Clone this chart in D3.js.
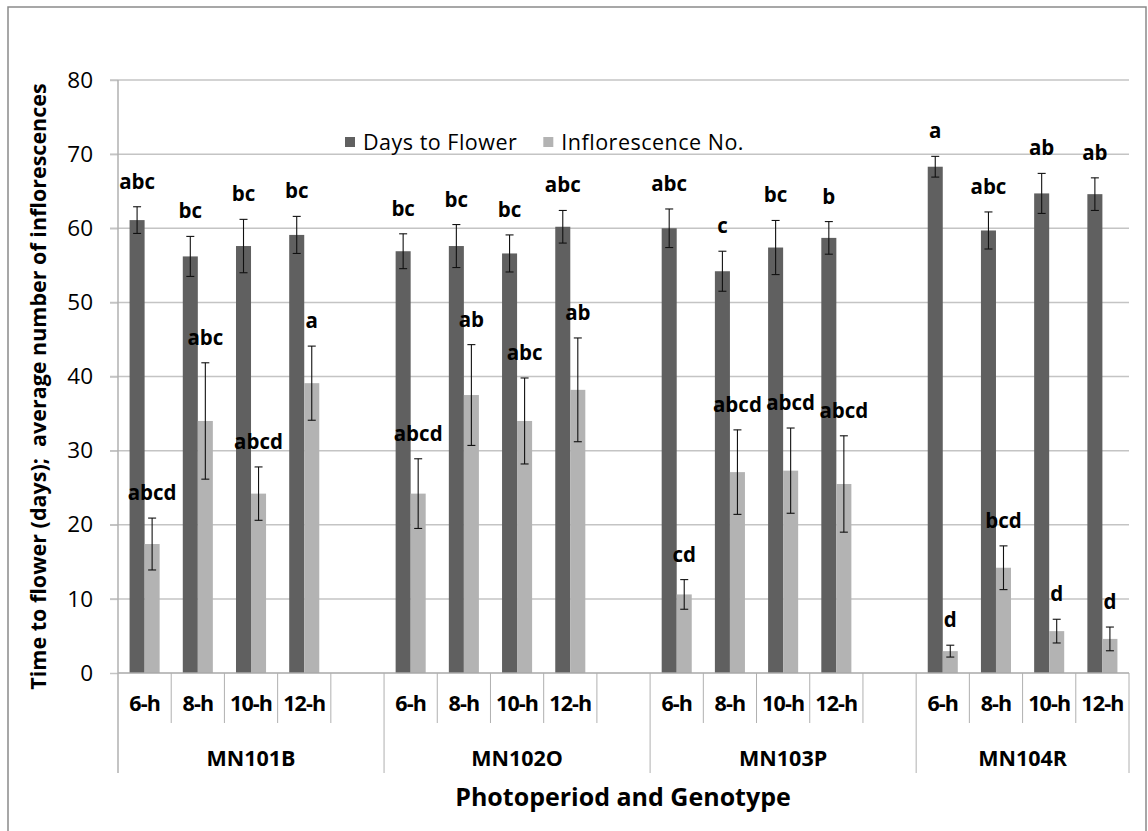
<!DOCTYPE html>
<html>
<head>
<meta charset="utf-8">
<script src="https://cdn.jsdelivr.net/npm/d3@7"></script>
<style>
  body { margin: 0; background: #fff; }
  text { font-family: "Open Sans", "DejaVu Sans", sans-serif; }
</style>
</head>
<body>
<svg id="chart" width="1148" height="831"></svg>
<script>
// chart data
const genotypes = ['MN101B', 'MN102O', 'MN103P', 'MN104R'];
const photoperiods = ['6-h', '8-h', '10-h', '12-h'];
const seriesNames = ['Days to Flower', 'Inflorescence No.'];

// values listed genotype by genotype, photoperiod inside
const daysToFlower = [61.1, 56.2, 57.6, 59.1, 56.9, 57.6, 56.6, 60.2, 60.0, 54.2, 57.4, 58.7, 68.3, 59.7, 64.7, 64.6];
const daysErr = [1.8, 2.7, 3.6, 2.5, 2.35, 2.9, 2.5, 2.2, 2.6, 2.7, 3.65, 2.2, 1.4, 2.5, 2.7, 2.2];
const inflorescences = [17.4, 34.0, 24.2, 39.1, 24.2, 37.5, 34.0, 38.2, 10.6, 27.1, 27.3, 25.5, 2.95, 14.2, 5.65, 4.6];
const inflErr = [3.5, 7.85, 3.6, 5.0, 4.7, 6.8, 5.8, 7.0, 2.0, 5.7, 5.75, 6.5, 0.8, 2.95, 1.6, 1.6];
const daysLetters = ['abc', 'bc', 'bc', 'bc', 'bc', 'bc', 'bc', 'abc', 'abc', 'c', 'bc', 'b', 'a', 'abc', 'ab', 'ab'];
const inflLetters = ['abcd', 'abc', 'abcd', 'a', 'abcd', 'ab', 'abc', 'ab', 'cd', 'abcd', 'abcd', 'abcd', 'd', 'bcd', 'd', 'd'];
const yTicks = [0, 10, 20, 30, 40, 50, 60, 70, 80];

const COLORS = ['#606060', '#b3b3b3'];
const GRID = '#c4c4c4';

const svg = d3.select('#chart');
const plotLeft = 118, plotRight = 1129, plotTop = 80, plotBottom = 673;

// outer frame
svg.append('rect')
  .attr('x', 8).attr('y', 7).attr('width', 1138).attr('height', 840)
  .attr('fill', 'none').attr('stroke', '#8a8a8a').attr('stroke-width', 1.5);

const y = d3.scaleLinear().domain([0, 80]).range([plotBottom, plotTop]);

// category slots: 4 photoperiods per genotype, with one empty slot between genotypes
const slots = [];
genotypes.forEach((g, gi) => {
  photoperiods.forEach(p => slots.push(g + '|' + p));
  if (gi < genotypes.length - 1) slots.push(g + '|gap');
});
const x = d3.scaleBand().domain(slots).range([plotLeft, plotRight]);
const x2 = d3.scaleBand().domain(seriesNames).range([0, x.bandwidth()]).paddingOuter(0.77);

// gridlines with small outer ticks
svg.append('g')
  .selectAll('line')
  .data(yTicks.filter(t => t > 0))
  .join('line')
  .attr('x1', plotLeft - 8).attr('x2', plotRight)
  .attr('y1', d => y(d)).attr('y2', d => y(d))
  .attr('stroke', GRID).attr('stroke-width', 1.5);

// y axis
const yAxis = svg.append('g')
  .attr('transform', `translate(${plotLeft},0)`)
  .call(d3.axisLeft(y).tickValues(yTicks).tickSize(8).tickPadding(17));
yAxis.select('.domain').remove();
yAxis.selectAll('.tick line').attr('stroke', GRID).attr('stroke-width', 1.5);
yAxis.selectAll('.tick text')
  .attr('font-size', 22.5).attr('fill', '#000')
  .style('font-family', '"Open Sans", sans-serif');

// flatten rows
const rows = [];
genotypes.forEach((g, gi) => {
  photoperiods.forEach((p, pi) => {
    const i = gi * photoperiods.length + pi;
    const key = g + '|' + p;
    rows.push({ key, series: seriesNames[0], v: daysToFlower[i], e: daysErr[i], lab: daysLetters[i], c: COLORS[0] });
    rows.push({ key, series: seriesNames[1], v: inflorescences[i], e: inflErr[i], lab: inflLetters[i], c: COLORS[1] });
  });
});
const bx = d => x(d.key) + x2(d.series);
const bw = x2.bandwidth();

svg.append('g')
  .selectAll('rect')
  .data(rows)
  .join('rect')
  .attr('x', bx)
  .attr('y', d => y(d.v))
  .attr('width', bw)
  .attr('height', d => y(0) - y(d.v))
  .attr('fill', d => d.c);

// error bars
const eb = svg.append('g').attr('stroke', '#111').attr('stroke-width', 1.1);
rows.forEach(d => {
  const cx = bx(d) + bw / 2;
  eb.append('line').attr('x1', cx).attr('x2', cx).attr('y1', y(d.v + d.e)).attr('y2', y(d.v - d.e));
  eb.append('line').attr('x1', cx - 4).attr('x2', cx + 4).attr('y1', y(d.v + d.e)).attr('y2', y(d.v + d.e));
  eb.append('line').attr('x1', cx - 4).attr('x2', cx + 4).attr('y1', y(d.v - d.e)).attr('y2', y(d.v - d.e));
});

// significance letters
svg.append('g')
  .selectAll('text')
  .data(rows)
  .join('text')
  .attr('x', d => bx(d) + bw / 2)
  .attr('y', d => y(d.v + d.e) - 18)
  .attr('text-anchor', 'middle')
  .attr('font-size', 20.5).attr('font-weight', 'bold')
  .text(d => d.lab);

// category axis: baseline, slot and group dividers
const cat = svg.append('g').attr('stroke', '#b0b0b0').attr('stroke-width', 1);
cat.append('line').attr('x1', plotLeft).attr('x2', plotRight).attr('y1', plotBottom).attr('y2', plotBottom)
  .attr('stroke', '#a8a8a8').attr('stroke-width', 1.5);
slots.forEach((s, i) => {
  if (i === 0) return;
  const xx = x(s);
  const groupStart = s.endsWith('|' + photoperiods[0]);
  cat.append('line').attr('x1', xx).attr('x2', xx)
    .attr('y1', plotBottom).attr('y2', groupStart ? 773 : 723);
});
cat.append('line').attr('x1', plotLeft).attr('x2', plotLeft).attr('y1', plotTop).attr('y2', 773)
  .attr('stroke-width', 1.5);
cat.append('line').attr('x1', plotRight).attr('x2', plotRight).attr('y1', plotBottom).attr('y2', 773);

// photoperiod labels
svg.append('g')
  .selectAll('text')
  .data(slots.filter(s => !s.endsWith('|gap')))
  .join('text')
  .attr('x', d => x(d) + x.bandwidth() / 2)
  .attr('y', 711)
  .attr('text-anchor', 'middle')
  .attr('font-size', 21.5).attr('font-weight', 'bold')
  .attr('letter-spacing', -0.9)
  .text(d => d.split('|')[1]);

// genotype labels, centred over each group's slots
svg.append('g')
  .selectAll('text')
  .data(genotypes)
  .join('text')
  .attr('x', (g, gi) => {
    const start = x(g + '|' + photoperiods[0]);
    const end = gi < genotypes.length - 1 ? x(g + '|gap') + x.bandwidth() : plotRight;
    return (start + end) / 2;
  })
  .attr('y', 766)
  .attr('text-anchor', 'middle')
  .attr('font-size', 21.5).attr('font-weight', 'bold')
  .text(d => d);

// axis titles
svg.append('text')
  .attr('x', 623)
  .attr('y', 806)
  .attr('text-anchor', 'middle')
  .attr('font-size', 25).attr('font-weight', 'bold')
  .text('Photoperiod and Genotype');

svg.append('text')
  .attr('transform', `translate(46,${(plotTop + plotBottom) / 2 + 10}) rotate(-90)`)
  .attr('text-anchor', 'middle')
  .attr('font-size', 21.5).attr('font-weight', 'bold')
  .attr('xml:space', 'preserve')
  .text('Time to flower (days);  average number of inflorescences');

// legend
const legend = svg.append('g').attr('transform', 'translate(345,142)');
let lx = 0;
seriesNames.forEach((s, i) => {
  legend.append('rect').attr('x', lx).attr('y', -5).attr('width', 10).attr('height', 10).attr('fill', COLORS[i]);
  const t = legend.append('text')
    .attr('x', lx + 18).attr('y', 7.5)
    .attr('font-size', 21.5)
    .attr('letter-spacing', 0.5)
    .text(s);
  lx += 18 + t.node().getComputedTextLength() + 26;
});
</script>
</body>
</html>
